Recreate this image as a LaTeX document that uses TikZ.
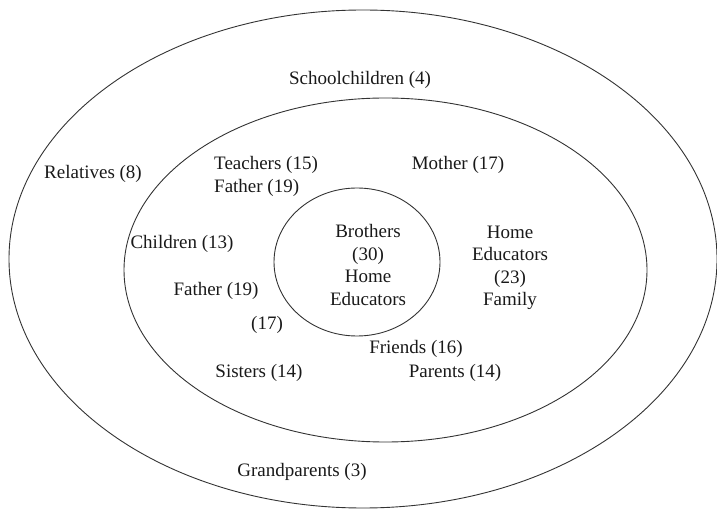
\documentclass[tikz,border=0pt]{standalone}
\usepackage{fontspec}
\setmainfont{Liberation Serif}
\begin{document}
\begin{tikzpicture}[x=1pt,y=-1pt,
  ring/.style={draw=black!80,line width=0.9pt},
  lbl/.style={font=\fontsize{19}{22.5}\selectfont,inner sep=0pt,align=center,text=black!90}]
\useasboundingbox (0,0) rectangle (717,510);
\draw[ring] (363,259) ellipse [x radius=354,y radius=249];
\draw[ring] (385.5,270) ellipse [x radius=261.5,y radius=172];
\draw[ring] (357,262) ellipse [x radius=83,y radius=74];
\node[lbl] (school) at (360,80) {Schoolchildren (4)};
\node[lbl] (rel) at (93,174) {Relatives (8)};
\node[lbl,anchor=west] (teach) at (214,165) {Teachers (15)};
\node[lbl,anchor=west] (fath1) at (214,188) {Father (19)};
\node[lbl] (moth) at (458,165) {Mother (17)};
\node[lbl] (child) at (182,244) {Children (13)};
\node[lbl] (broth) at (368,265) {Brothers\\(30)\\Home\\Educators};
\node[lbl] (homeed) at (510,268) {Home\\Educators\\(23)\\Family};
\node[lbl] (fath2) at (216,291) {Father (19)};
\node[lbl] (seven) at (267,325) {(17)};
\node[lbl] (friends) at (416,349) {Friends (16)};
\node[lbl] (sisters) at (259,373) {Sisters (14)};
\node[lbl] (parents) at (455,373) {Parents (14)};
\node[lbl] (grand) at (302,472) {Grandparents (3)};
\end{tikzpicture}
\end{document}
